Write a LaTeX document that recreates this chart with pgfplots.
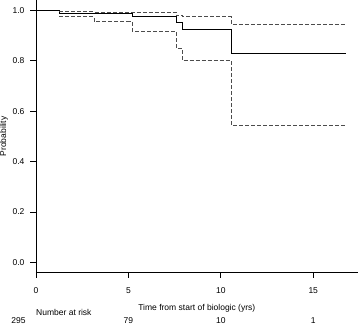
\documentclass[border=0pt]{standalone}
\usepackage{fontspec}
\setmainfont{Liberation Sans}
\usepackage{pgfplots}
\pgfplotsset{compat=1.18}
\begin{document}
\fontsize{8.5}{10}\selectfont
\begin{tikzpicture}
\begin{axis}[
  width=321.3pt, height=271.7pt, scale only axis,
  xmin=0, xmax=17.4, ymin=-0.04, ymax=1.04,
  axis x line=bottom, axis y line=left, axis line style={-, line width=0.8pt},
  tick align=outside, major tick length=5.5pt,
  tick style={line width=0.8pt, black},
  xtick={0,5,10,15}, ytick={0,0.2,0.4,0.6,0.8,1.0},
  /pgf/number format/assume math mode=true,
  yticklabel style={/pgf/number format/fixed, /pgf/number format/fixed zerofill,
    /pgf/number format/precision=1, xshift=-3pt},
  xticklabel style={yshift=-6.5pt},
  tick label style={font=\fontsize{8.5}{10}\selectfont},
  label style={font=\fontsize{8.5}{10}\selectfont},
  xlabel={Time from start of biologic (yrs)},
  ylabel={Probability},
  xlabel style={at={(axis description cs:0.5,0)}, anchor=center, yshift=-35.5pt, inner sep=0pt},
  ylabel style={at={(axis description cs:0,0.5)}, anchor=center, rotate=0, yshift=32pt, inner sep=0pt},
  clip=false,
]
\addplot[const plot, black, line width=0.8pt] coordinates {
  (0,1) (1.27,0.99) (5.2,0.977) (7.59,0.952) (7.92,0.925) (10.57,0.831) (16.76,0.831)};
\addplot[const plot, black!70, line width=0.8pt, dash pattern=on 4pt off 2pt] coordinates {
  (1.27,0.997) (3.16,0.994) (7.59,0.98) (7.92,0.975) (10.57,0.946) (16.76,0.946)};
\addplot[const plot, black!70, line width=0.8pt, dash pattern=on 4pt off 2pt] coordinates {
  (1.27,0.975) (3.16,0.955) (5.2,0.918) (7.59,0.849) (7.92,0.80) (10.57,0.544) (16.76,0.544)};
\node[anchor=west, inner sep=0pt] at (axis cs:0,-0.199) {Number at risk};
\node[inner xsep=0pt, inner ysep=2pt] at (axis cs:-0.95,-0.233) {295};
\node[inner xsep=0pt, inner ysep=2pt] at (axis cs:5,-0.233) {79};
\node[inner xsep=0pt, inner ysep=2pt] at (axis cs:10,-0.233) {10};
\node[inner xsep=0pt, inner ysep=2pt] at (axis cs:15,-0.233) {1};
\end{axis}
\end{tikzpicture}
\end{document}
